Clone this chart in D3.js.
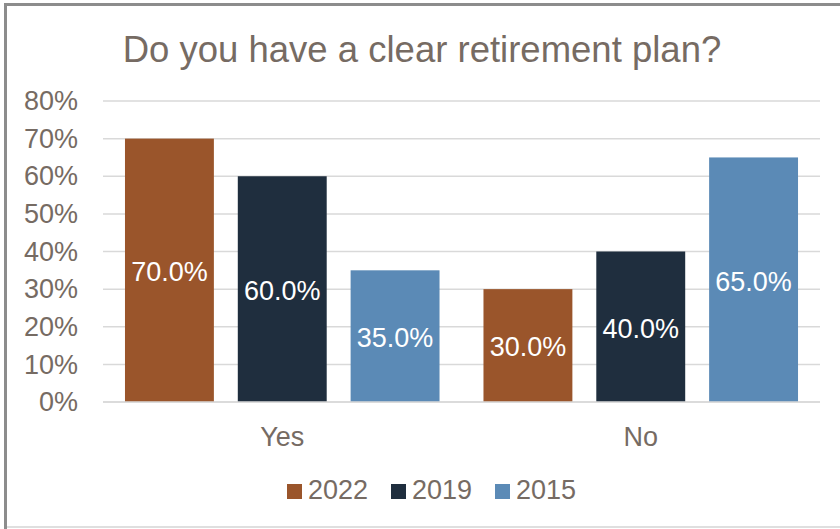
<!DOCTYPE html>
<html>
<head>
<meta charset="utf-8">
<script src="https://cdn.jsdelivr.net/npm/d3@7/dist/d3.min.js"></script>
<style>
  html, body { margin: 0; padding: 0; background: #fff; }
  svg { display: block; font-family: "Liberation Sans", Arial, sans-serif; }
</style>
</head>
<body>
<svg id="chart" width="840" height="529"></svg>
<script>
// Survey answers by year
const categories = ["Yes", "No"];
const seriesNames = ["2022", "2019", "2015"];
const values2022 = [70, 30];
const values2019 = [60, 40];
const values2015 = [35, 65];
const yTicks = [0, 10, 20, 30, 40, 50, 60, 70, 80];
const titleText = "Do you have a clear retirement plan?";

const seriesValues = [values2022, values2019, values2015];
const colors = ["#9a552b", "#1f2e3e", "#5b8ab6"];
const textColor = "#766b63";

const svg = d3.select("#chart");
const W = 840, H = 529;
const plot = { left: 103, right: 820, top: 101, bottom: 402 };

// Frame around the chart
svg.append("line").attr("x1", 4).attr("x2", W).attr("y1", 4.5).attr("y2", 4.5)
  .attr("stroke", "#8c8c8c").attr("stroke-width", 3);
svg.append("line").attr("x1", 5.5).attr("x2", 5.5).attr("y1", 3).attr("y2", H)
  .attr("stroke", "#8c8c8c").attr("stroke-width", 3);
svg.append("line").attr("x1", 7).attr("x2", W).attr("y1", 527).attr("y2", 527)
  .attr("stroke", "#d4d4d4").attr("stroke-width", 1.5);

// Title
svg.append("text")
  .attr("x", 422).attr("y", 62)
  .attr("text-anchor", "middle")
  .attr("font-size", 36.5)
  .attr("fill", textColor)
  .text(titleText);

const y = d3.scaleLinear().domain([0, 80]).range([plot.bottom, plot.top]);
const x0 = d3.scaleBand().domain(categories)
  .range([plot.left, plot.right]).paddingInner(0.1226).paddingOuter(0.0613);
const x1 = d3.scaleBand().domain(seriesNames)
  .range([0, x0.bandwidth()]).paddingInner(0.212).paddingOuter(0);

// Gridlines
svg.append("g").selectAll("line").data(yTicks).join("line")
  .attr("x1", plot.left).attr("x2", plot.right)
  .attr("y1", d => y(d)).attr("y2", d => y(d))
  .attr("stroke", "#d9d9d9").attr("stroke-width", 1.5);

// Y axis labels
const yAxis = svg.append("g")
  .attr("transform", `translate(${plot.left},0)`)
  .call(d3.axisLeft(y).tickValues(yTicks).tickFormat(d => d + "%").tickSize(0).tickPadding(25));
yAxis.select(".domain").remove();
yAxis.selectAll("text")
  .attr("font-size", 27).attr("fill", textColor)
  .attr("font-family", "'Liberation Sans', Arial, sans-serif");

// Bars
const rows = categories.map((c, i) => ({
  cat: c,
  items: seriesNames.map((s, j) => ({ s, j, v: seriesValues[j][i] }))
}));

const groups = svg.append("g").selectAll("g").data(rows).join("g")
  .attr("transform", d => `translate(${x0(d.cat)},0)`);

groups.selectAll("rect").data(d => d.items).join("rect")
  .attr("x", d => x1(d.s))
  .attr("width", x1.bandwidth())
  .attr("y", d => y(d.v))
  .attr("height", d => y(0) - y(d.v))
  .attr("fill", d => colors[d.j]);

groups.selectAll("text").data(d => d.items).join("text")
  .attr("x", d => x1(d.s) + x1.bandwidth() / 2)
  .attr("y", d => (y(d.v) + y(0)) / 2)
  .attr("dy", "0.4em")
  .attr("text-anchor", "middle")
  .attr("font-size", 27)
  .attr("fill", "#ffffff")
  .text(d => d.v.toFixed(1) + "%");

// Baseline axis
svg.append("line").attr("x1", plot.left).attr("x2", plot.right)
  .attr("y1", y(0)).attr("y2", y(0))
  .attr("stroke", "#d9d9d9").attr("stroke-width", 1.5);

// Category labels
const xAxis = svg.append("g")
  .attr("transform", `translate(0,${plot.bottom})`)
  .call(d3.axisBottom(x0).tickSize(0).tickPadding(25));
xAxis.select(".domain").remove();
xAxis.selectAll("text")
  .attr("font-size", 27).attr("fill", textColor)
  .attr("font-family", "'Liberation Sans', Arial, sans-serif");

// Legend
const legend = svg.append("g").selectAll("g").data(seriesNames).join("g")
  .attr("transform", (d, i) => `translate(${287 + i * 104},484)`);
legend.append("rect").attr("width", 15).attr("height", 15)
  .attr("fill", (d, i) => colors[i]);
legend.append("text").attr("x", 21).attr("y", 15)
  .attr("font-size", 27).attr("fill", textColor)
  .text(d => d);
</script>
</body>
</html>
